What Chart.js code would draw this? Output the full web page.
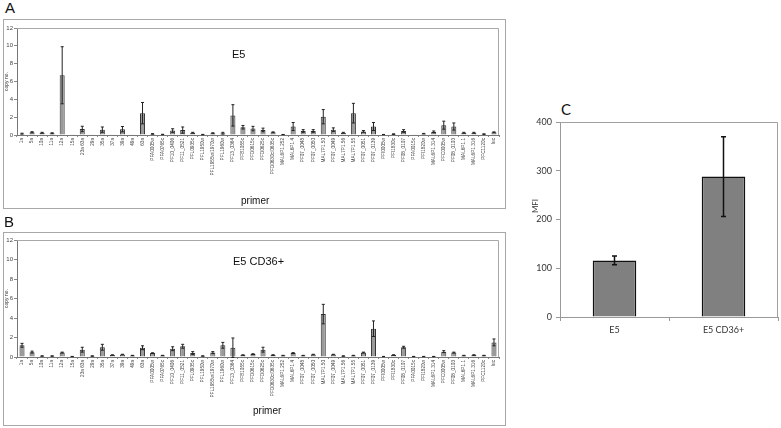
<html>
  <head>
    <style>
      body { margin: 0; background: #fff; width: 781px; height: 428px; position: relative; overflow: hidden; font-family: "Liberation Sans", Arial, sans-serif; }
      .frame { position: absolute; border: 1px solid #a8a8a8; box-sizing: border-box; }
      .frame canvas { position: absolute; left: 0; top: 0; }
      .txt { position: absolute; white-space: nowrap; color: #111; }
    </style>
  </head>
  <body>
    <div class="txt" style="left:5px;top:-1px;font-size:15px;">A</div>
    <div class="frame" style="left:3px;top:19px;width:503px;height:190px;">
      <canvas id="chartA" width="501" height="188"></canvas>
    </div>
    <div class="txt" style="left:232px;top:48px;font-size:11px;">E5</div>
    <div class="txt" style="left:241px;top:195px;font-size:10px;">primer</div>

    <div class="txt" style="left:4px;top:213px;font-size:15px;">B</div>
    <div class="frame" style="left:3px;top:232px;width:503px;height:194px;">
      <canvas id="chartB" width="501" height="192"></canvas>
    </div>
    <div class="txt" style="left:233px;top:255px;font-size:11px;">E5 CD36+</div>
    <div class="txt" style="left:253px;top:405px;font-size:10px;">primer</div>

    <div class="txt" style="left:561px;top:100px;font-size:15px;font-family:Lato, sans-serif;">C</div>
    <div class="txt" style="left:525px;top:201px;width:20px;text-align:center;line-height:10px;font-size:8px;color:#333;font-family:Lato, sans-serif;transform:rotate(-90deg);">MFI</div>
    <canvas id="chartC" width="253" height="260" style="position:absolute;left:528px;top:95px;"></canvas>

    <script src="https://cdn.jsdelivr.net/npm/chart.js"></script>
    <script>
      var primers = [
        "1a", "5a", "10a", "11a", "12a", "15a", "23a 63a", "29a", "35a", "37a", "39a", "49a", "63a",
        "PFA0005w", "PFA0765c", "PF10_0406", "PF11_0521", "PFL0935c", "PFL1950w", "PFL1955w/1970w",
        "PFL1960w", "PF13_0364", "PFB1055c", "PFD0615c", "PFD0625c", "PFD0630c/0635c", "MAL6P1.252",
        "MAL6P1.4", "PF07_0048", "PF07_0050", "MAL7P1.50", "PF07_0049", "MAL7P1.56", "MAL7P1.55",
        "PF07_0051", "PF07_0139", "PFI0005w", "PFI1830c", "PF08_0107", "PFA0015c", "PFI1820w",
        "MAL6P1.314", "PFC0005w", "PF08_0103", "MAL6P1.1", "MAL6P1.316", "PFC1120c", "luc"
      ];

      var e5Values = [
        0.15, 0.3, 0.25, 0.2, 6.7, 0.02, 0.68, 0.02, 0.6, 0.02, 0.65, 0.02, 2.45,
        0.12, 0.06, 0.5, 0.55, 0.25, 0.05, 0.2, 0.2, 2.2, 0.87, 0.72, 0.57, 0.3, 0.05,
        0.95, 0.45, 0.45, 2.05, 0.6, 0.25, 2.45, 0.4, 0.95, 0.05, 0.1, 0.45, 0.02, 0.15,
        0.35, 1.1, 0.95, 0.25, 0.25, 0.1, 0.3
      ];
      var e5Errors = [
        0.05, 0.07, 0.05, 0.05, 3.2, 0, 0.3, 0, 0.3, 0, 0.3, 0, 1.2,
        0.03, 0.02, 0.2, 0.35, 0.05, 0.02, 0.05, 0.1, 1.2, 0.2, 0.25, 0.2, 0.05, 0.01,
        0.45, 0.15, 0.15, 0.8, 0.2, 0.05, 1.1, 0.1, 0.45, 0.01, 0.03, 0.15, 0, 0.03,
        0.1, 0.45, 0.4, 0.05, 0.05, 0.03, 0.05
      ];

      var cd36Values = [
        1.2, 0.5, 0.1, 0.1, 0.45, 0.05, 0.75, 0.1, 1.0, 0.2, 0.25, 0.15, 0.95,
        0.4, 0.15, 0.85, 1.1, 0.4, 0.1, 0.45, 1.2, 0.95, 0.2, 0.3, 0.75, 0.2, 0.15,
        0.4, 0.15, 0.25, 4.4, 0.25, 0.1, 0.15, 0.45, 2.9, 0.05, 0.2, 1.0, 0.05, 0.05,
        0.05, 0.55, 0.45, 0.15, 0.2, 0.15, 1.5
      ];
      var cd36Errors = [
        0.2, 0.1, 0.02, 0.02, 0.05, 0.01, 0.25, 0.02, 0.3, 0.02, 0.03, 0.02, 0.2,
        0.03, 0.02, 0.2, 0.2, 0.15, 0.02, 0.1, 0.3, 1.0, 0.02, 0.03, 0.25, 0.03, 0.02,
        0.05, 0.02, 0.03, 1.0, 0.03, 0.02, 0.02, 0.05, 0.8, 0.01, 0.03, 0.1, 0.01, 0.01,
        0.01, 0.1, 0.05, 0.02, 0.03, 0.02, 0.35
      ];

      var mfiLabels = ["E5", "E5 CD36+"];
      var mfiValues = [116, 288];
      var mfiErrors = [9, 82];

      // error bars + gray plot border, drawn through the chart's own scales
      var errorBars = {
        id: "errorBars",
        afterDatasetsDraw(chart, args, opts) {
          var ctx = chart.ctx;
          var y = chart.scales.y;
          var meta = chart.getDatasetMeta(0);
          var errs = opts.errors;
          ctx.save();
          ctx.strokeStyle = opts.color;
          ctx.lineWidth = opts.lineWidth;
          meta.data.forEach(function (bar, i) {
            var v = chart.data.datasets[0].data[i];
            var e = errs[i];
            if (!e) return;
            var top = y.getPixelForValue(v + e);
            var bot = y.getPixelForValue(v - e);
            var w = opts.cap;
            ctx.beginPath();
            ctx.moveTo(bar.x, top);
            ctx.lineTo(bar.x, bot);
            ctx.moveTo(bar.x - w, top);
            ctx.lineTo(bar.x + w, top);
            ctx.moveTo(bar.x - w, bot);
            ctx.lineTo(bar.x + w, bot);
            ctx.stroke();
          });
          ctx.restore();
        },
        beforeDatasetsDraw(chart, args, opts) {
          var a = chart.chartArea;
          var ctx = chart.ctx;
          ctx.save();
          ctx.strokeStyle = opts.frame;
          ctx.lineWidth = 1;
          ctx.beginPath();
          ctx.moveTo(a.left, a.top + 0.5);
          ctx.lineTo(a.right - 0.5, a.top + 0.5);
          ctx.lineTo(a.right - 0.5, a.bottom);
          ctx.stroke();
          ctx.restore();
        }
      };

      function primerChart(id, values, errors, top, axisHeight) {
        return new Chart(document.getElementById(id), {
          type: "bar",
          data: {
            labels: primers,
            datasets: [{
              data: values,
              backgroundColor: "#9a9a9a",
              borderColor: "#333",
              borderWidth: 1,
              barPercentage: 0.5,
              categoryPercentage: 1
            }]
          },
          options: {
            responsive: false,
            animation: false,
            layout: { padding: { left: 0, top: top, right: 6, bottom: 0 } },
            plugins: {
              legend: { display: false },
              tooltip: { enabled: false },
              errorBars: { errors: errors, color: "#222", lineWidth: 1, cap: 1.5, frame: "#a8a8a8" }
            },
            scales: {
              x: {
                afterFit: function (s) { s.height = axisHeight; },
                grid: { display: true, drawOnChartArea: false, tickLength: 2, color: "#888" },
                border: { color: "#777" },
                ticks: {
                  autoSkip: false, minRotation: 90, maxRotation: 90, padding: 1,
                  color: "#444", font: { size: 4.7, family: "Liberation Sans" }
                }
              },
              y: {
                min: 0, max: 12,
                afterFit: function (s) { s.width = 13; },
                grid: { display: true, drawOnChartArea: false, tickLength: 3, color: "#888" },
                border: { color: "#777" },
                ticks: { stepSize: 2, padding: 1, color: "#444", font: { size: 6, family: "Liberation Sans" } },
                title: { display: true, text: "copy no.", padding: 0, color: "#333", font: { size: 5, family: "Liberation Sans" } }
              }
            }
          },
          plugins: [errorBars]
        });
      }

      primerChart("chartA", e5Values, e5Errors, 8, 73);
      primerChart("chartB", cd36Values, cd36Errors, 7, 68);

      new Chart(document.getElementById("chartC"), {
        type: "bar",
        data: {
          labels: mfiLabels,
          datasets: [{
            data: mfiValues,
            backgroundColor: "#808080",
            borderColor: "#111",
            borderWidth: 1.5,
            barPercentage: 0.4,
            categoryPercentage: 1
          }]
        },
        options: {
          responsive: false,
          animation: false,
          layout: { padding: { left: 2, top: 27, right: 3, bottom: 0 } },
          plugins: {
            legend: { display: false },
            tooltip: { enabled: false },
            errorBars: { errors: mfiErrors, color: "#111", lineWidth: 1.5, cap: 2.5, frame: "#a0a0a0" }
          },
          scales: {
            x: {
              afterFit: function (s) { s.height = 38; },
              grid: { display: true, drawOnChartArea: false, tickLength: 4, color: "#999" },
              border: { color: "#999" },
              ticks: { padding: 4, color: "#333", font: { size: 9, family: "Lato" } }
            },
            y: {
              min: 0, max: 400,
              afterFit: function (s) { s.width = 30; },
              grid: { display: true, drawOnChartArea: false, tickLength: 4, color: "#999" },
              border: { color: "#999" },
              ticks: { stepSize: 100, padding: 4, color: "#333", font: { size: 9, family: "Lato" } }
            }
          }
        },
        plugins: [errorBars]
      });
    </script>
  </body>
</html>
